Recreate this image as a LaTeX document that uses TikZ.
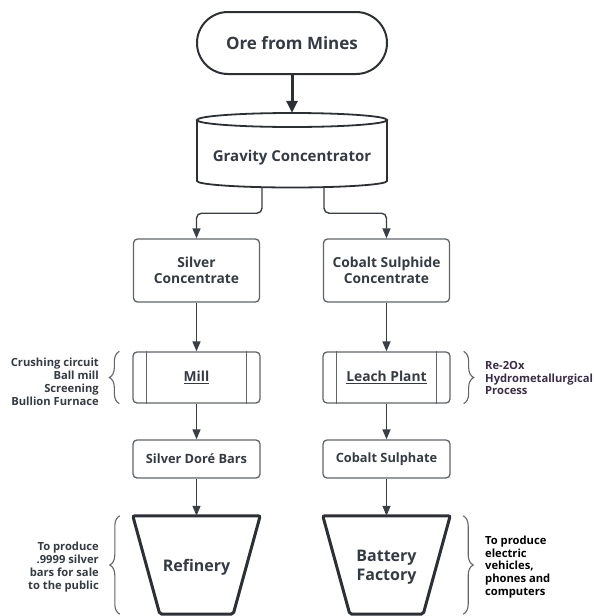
\documentclass[tikz,border=0pt]{standalone}
\usepackage{fontspec}
\setmainfont{Open Sans}
\usetikzlibrary{arrows.meta,decorations.pathreplacing}
\definecolor{ln}{HTML}{3A3F47}
\definecolor{bx}{HTML}{60656C}
\definecolor{tx}{HTML}{353B45}
\definecolor{pu}{HTML}{3B2C4A}
\definecolor{dk}{HTML}{2C3036}
\begin{document}
\begin{tikzpicture}[x=1pt,y=-1pt,
  every node/.style={text=tx, font=\bfseries},
  box/.style={draw=bx, line width=1.3pt, rounded corners=4pt, fill=white, minimum width=126pt, align=center, font=\bfseries\fontsize{13.8}{16}\selectfont},
  conn/.style={draw=ln, line width=1.4pt, -{Triangle[length=10pt,width=8pt]}},
  brc/.style={draw=bx, line width=1.1pt, decorate, decoration={brace, amplitude=10pt}},
  side/.style={inner sep=0pt, font=\bfseries\fontsize{11.2}{12.9}\selectfont},
  big/.style={inner sep=0pt, minimum width=127pt, minimum height=98pt, align=center, font=\bfseries\fontsize{16}{19}\selectfont}
]
\useasboundingbox[fill=white] (0,0) rectangle (594,616);

% Ore from Mines
\node[draw=dk, line width=2pt, rounded corners=31pt, minimum width=190pt, minimum height=62pt, font=\bfseries\fontsize{17}{20}\selectfont] (ore) at (292,43) {Ore from Mines};

% Gravity concentrator (cylinder)
\node[inner sep=0pt, minimum width=190pt, minimum height=74pt] (grav) at (292,150) {};
\draw[dk, line width=1.8pt, fill=white] (197,120) -- (197,181) arc[start angle=180, end angle=360, x radius=95pt, y radius=6.5pt] -- (387,120);
\draw[dk, line width=1.8pt, fill=white] (292,120) ellipse[x radius=95pt, y radius=7pt];
\node[font=\bfseries\fontsize{15}{18}\selectfont] at (292,158) {Gravity Concentrator};

\draw[draw=dk, line width=3pt, -{Triangle[length=12pt,width=11pt]}] (ore) -- (grav.north);

% Concentrates
\node[box, minimum height=63pt] (silv) at (196.5,270.5) {Silver\\Concentrate};
\node[box, minimum height=63pt] (cobs) at (386.5,270.5) {Cobalt Sulphide\\Concentrate};

\draw[conn, rounded corners=5pt] ([xshift=-30pt]grav.south) -- ++(0,26) -| (silv.north);
\draw[conn, rounded corners=5pt] ([xshift=32pt]grav.south) -- ++(0,26) -| (cobs.north);

% Mill and Leach Plant
\node[box, minimum width=127pt, minimum height=51pt] (mill) at (196.5,377.5) {\underline{Mill}};
\draw[bx, line width=1.3pt] ([xshift=14pt]mill.north west) -- ([xshift=14pt]mill.south west)
  ([xshift=-14pt]mill.north east) -- ([xshift=-14pt]mill.south east);
\node[box, minimum width=127pt, minimum height=51pt] (leach) at (386.5,377.5) {\underline{Leach Plant}};
\draw[bx, line width=1.3pt] ([xshift=14pt]leach.north west) -- ([xshift=14pt]leach.south west)
  ([xshift=-14pt]leach.north east) -- ([xshift=-14pt]leach.south east);

\draw[conn] (silv) -- (mill);
\draw[conn] (cobs) -- (leach);

\draw[brc] ([xshift=-13pt]mill.south west) -- ([xshift=-13pt]mill.north west);
\node[side, anchor=east, align=right] (milltx) at (99,382) {Crushing circuit\\Ball mill\\Screening\\Bullion Furnace};
\draw[brc] ([xshift=13pt]leach.north east) -- ([xshift=13pt]leach.south east);
\node[side, anchor=west, align=left, text=pu] (leachtx) at (485,378) {Re-2Ox\\Hydrometallurgical\\Process};

% Bars and sulphate
\node[box, minimum width=127pt, minimum height=38pt, font=\bfseries\fontsize{12.8}{15}\selectfont] (dore) at (196.5,459) {Silver Doré Bars};
\node[box, minimum width=127pt, minimum height=38pt, font=\bfseries\fontsize{12.8}{15}\selectfont] (sulph) at (386.5,459) {Cobalt Sulphate};
\draw[conn] (mill) -- (dore);
\draw[conn] (leach) -- (sulph);

% Refinery and Battery Factory (trapezoids)
\node[big] (ref) at (196.5,565) {};
\draw[dk, line width=3pt, rounded corners=2pt] (ref.north west) -- (ref.north east) -- ([xshift=-27pt]ref.south east) -- ([xshift=27pt]ref.south west) -- cycle;
\node[font=\bfseries\fontsize{16}{19}\selectfont] at (196.5,567) {Refinery};
\node[big] (bat) at (386.5,565) {};
\draw[dk, line width=3pt, rounded corners=2pt] (bat.north west) -- (bat.north east) -- ([xshift=-27pt]bat.south east) -- ([xshift=27pt]bat.south west) -- cycle;
\node[align=center, font=\bfseries\fontsize{16}{19}\selectfont] at (386.5,567.5) {Battery\\Factory};

\draw[conn] (dore) -- (ref.north);
\draw[conn] (sulph) -- (bat.north);

\draw[brc] ([xshift=-13pt]ref.south west) -- ([xshift=-13pt]ref.north west);
\node[side, anchor=east, align=right] (reftx) at (99,567) {To produce\\.9999 silver\\bars for sale\\to the public};
\draw[brc] ([xshift=13pt]bat.north east) -- ([xshift=13pt]bat.south east);
\node[side, anchor=west, align=left, text=black] (battx) at (485,567) {To produce\\electric\\vehicles,\\phones and\\computers};
\end{tikzpicture}
\end{document}
